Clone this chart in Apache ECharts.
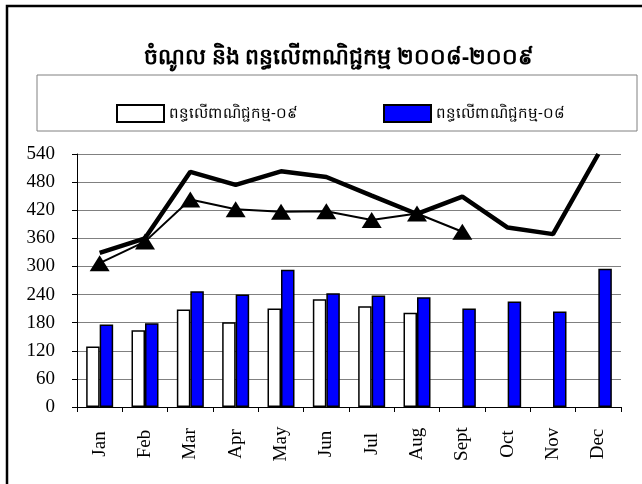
<!DOCTYPE html>
<html>
<head>
<meta charset="utf-8">
<script src="https://cdn.jsdelivr.net/npm/echarts@6/dist/echarts.min.js"></script>
<style>html,body{margin:0;padding:0;background:#fff}#c{width:642px;height:484px}</style>
</head>
<body>
<div id="c"></div>
<script>
var titleText = 'ចំណូល និង ពន្ធលើពាណិជ្ជកម្ម ២០០៨-២០០៩';
var months = ['Jan','Feb','Mar','Apr','May','Jun','Jul','Aug','Sept','Oct','Nov','Dec'];
var tax09Name = 'ពន្ធលើពាណិជ្ជកម្ម-០៩';
var tax08Name = 'ពន្ធលើពាណិជ្ជកម្ម-០៨';
var tax09 = [129, 164, 208, 181, 210, 230, 215, 201, null, null, null, null];
var tax08 = [176, 179, 247, 240, 293, 243, 238, 234, 210, 225, 204, 295];
var revenue08 = [329, 360, 502, 474, 503, 491, 451, 412, 449, 383, 369, 540];
var revenue09 = [307, 353, 443, 422, 417, 418, 399, 413, 374, null, null, null];
var yTicks = [0, 540, 60];

var chart = echarts.init(document.getElementById('c'), null, {renderer: 'canvas'});
var serif = 'Liberation Serif, Times New Roman, serif';
chart.setOption({
  backgroundColor: '#fff',
  animation: false,
  title: {
    text: titleText,
    left: 334,
    textAlign: 'center',
    top: 42,
    textStyle: {fontSize: 22, fontWeight: 'bold', color: '#000', fontFamily: 'Noto Sans, sans-serif'}
  },
  graphic: [
    {type: 'rect', shape: {x: 7, y: 6, width: 700, height: 600}, style: {fill: 'none', stroke: '#000', lineWidth: 2.5}, z: 100},
    {type: 'rect', shape: {x: 37, y: 75, width: 600, height: 56}, style: {fill: 'none', stroke: '#808080', lineWidth: 1}, z: 100}
  ],
  legend: [
    {
      data: [tax09Name], left: 111, top: 99, itemWidth: 47, itemHeight: 17, itemGap: 5, icon: 'rect',
      textStyle: {fontSize: 15, color: '#000', fontFamily: 'Noto Sans, sans-serif'},
      selectedMode: false
    },
    {
      data: [tax08Name], left: 378, top: 99, itemWidth: 47, itemHeight: 17, itemGap: 5, icon: 'rect',
      textStyle: {fontSize: 15, color: '#000', fontFamily: 'Noto Sans, sans-serif'},
      selectedMode: false
    }
  ],
  grid: {left: 77, right: 21, top: 154, bottom: 77, containLabel: false},
  xAxis: {
    type: 'category',
    data: months,
    boundaryGap: true,
    axisLine: {lineStyle: {color: '#000', width: 1}},
    axisTick: {show: true, length: 5, lineStyle: {color: '#000'}},
    axisLabel: {rotate: 90, align: 'center', verticalAlign: 'middle', margin: 37, fontSize: 19, color: '#000', fontFamily: serif, interval: 0}
  },
  yAxis: {
    type: 'value',
    min: yTicks[0], max: yTicks[1], interval: yTicks[2],
    axisLine: {show: true, lineStyle: {color: '#000', width: 1}},
    axisTick: {show: true, length: 5, lineStyle: {color: '#000'}},
    splitLine: {show: true, lineStyle: {color: '#808080', width: 1}},
    axisLabel: {fontSize: 19, color: '#000', fontFamily: serif, margin: 22}
  },
  series: [
    {
      name: tax09Name, type: 'bar', data: tax09, barWidth: 13.5, barGap: '0%',
      itemStyle: {color: '#fff', borderColor: '#000', borderWidth: 1.5}, z: 2
    },
    {
      name: tax08Name, type: 'bar', data: tax08, barWidth: 13.5, barGap: '0%',
      itemStyle: {color: '#0000ff', borderColor: '#000', borderWidth: 1.5}, z: 2
    },
    {
      name: 'revenue08', type: 'line', data: revenue08, symbol: 'none', connectNulls: false,
      lineStyle: {color: '#000', width: 4.5}, itemStyle: {color: '#000'}, z: 3
    },
    {
      name: 'revenue09', type: 'line', data: revenue09, symbol: 'triangle', symbolSize: [20, 16],
      lineStyle: {color: '#000', width: 2}, itemStyle: {color: '#000'}, z: 4
    }
  ]
});
</script>
</body>
</html>
